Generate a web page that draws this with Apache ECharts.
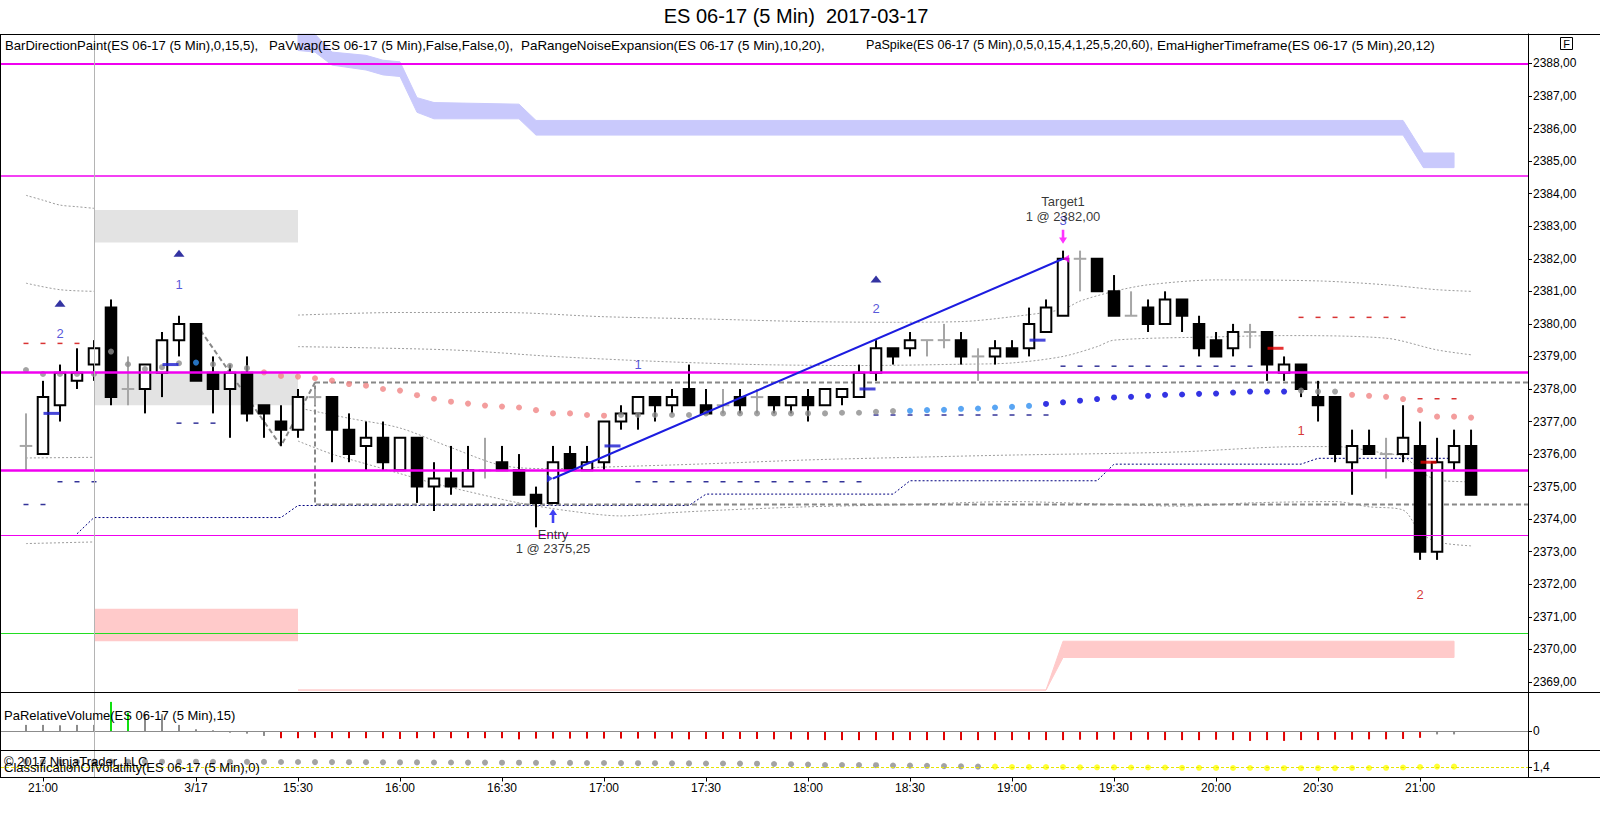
<!DOCTYPE html>
<html>
<head>
<meta charset="utf-8">
<title>ES 06-17 (5 Min) 2017-03-17</title>
<script src="https://cdn.jsdelivr.net/npm/echarts@6.0.0/dist/echarts.min.js"></script>
<style>
html,body{margin:0;padding:0;background:#ffffff;}
#chart{width:1600px;height:828px;}
</style>
</head>
<body>
<div id="chart"></div>
<script>
// ================= DATA =================
const times = ['20:55','21:00','21:05','21:10','21:15',
 '14:35','14:40','14:45','14:50','14:55','15:00','15:05','15:10','15:15','15:20','15:25','15:30','15:35','15:40','15:45',
 '15:50','15:55','16:00','16:05','16:10','16:15','16:20','16:25','16:30','16:35','16:40','16:45','16:50','16:55','17:00',
 '17:05','17:10','17:15','17:20','17:25','17:30','17:35','17:40','17:45','17:50','17:55','18:00','18:05','18:10','18:15',
 '18:20','18:25','18:30','18:35','18:40','18:45','18:50','18:55','19:00','19:05','19:10','19:15','19:20','19:25','19:30',
 '19:35','19:40','19:45','19:50','19:55','20:00','20:05','20:10','20:15','20:20','20:25','20:30','20:35','20:40','20:45',
 '20:50','20:55','21:00','21:05','21:10','21:15'];

const open = [2376.25,2376.0,2377.5,2378.25,2378.75,
 2380.5,2378.0,2378.0,2378.5,2379.5, 2380.0,2378.5,2378.0,2378.5,2377.5,
 2377.0,2376.75,2377.75,2377.75,2376.75, 2376.25,2376.5,2375.5,2376.5,2375.0,
 2375.25,2375.0,2375.5,2375.75,2375.5, 2374.75,2374.5,2376.0,2375.5,2375.75,
 2377.0,2377.25,2377.75,2377.5,2378.0, 2377.5,2377.5,2377.75,2377.75,2377.75,
 2377.5,2377.75,2377.5,2377.75,2377.75, 2378.5,2379.25,2379.25,2379.5,2379.5,
 2379.5,2379.0,2379.0,2379.25,2379.25, 2379.75,2380.25,2382.0,2382.0,2381.0,
 2380.25,2380.5,2380.0,2380.75,2380.0, 2379.5,2379.25,2379.75,2379.75,2378.5,
 2378.75,2377.75,2377.75,2375.75,2376.25, 2376.0,2376.0,2376.25,2373.0,2375.75,
 2376.25];
const high = [2377.25,2378.25,2378.75,2379.25,2379.5,
 2380.75,2379.0,2378.75,2379.75,2380.25, 2380.0,2379.0,2378.75,2379.0,2377.5,
 2377.5,2378.0,2378.0,2377.75,2377.25, 2377.0,2377.0,2376.5,2376.5,2375.75,
 2376.25,2376.25,2376.5,2376.25,2376.0, 2375.0,2376.25,2376.25,2376.25,2377.0,
 2377.5,2377.75,2377.75,2378.0,2378.75, 2378.0,2378.0,2378.0,2378.0,2377.75,
 2377.75,2378.0,2378.0,2378.0,2378.75, 2379.5,2379.25,2379.75,2379.5,2380.0,
 2379.75,2379.25,2379.5,2379.5,2380.5, 2380.75,2382.25,2382.25,2382.0,2381.5,
 2381.0,2380.75,2381.0,2380.75,2380.25, 2379.75,2380.0,2380.0,2379.75,2379.0,
 2378.75,2378.25,2377.75,2376.75,2376.75, 2376.5,2377.5,2377.0,2376.5,2376.75,
 2376.75];
const low = [2375.5,2376.0,2377.0,2378.0,2378.25,
 2377.5,2377.5,2377.25,2377.75,2379.0, 2378.25,2377.25,2376.5,2377.0,2376.5,
 2376.25,2376.5,2377.5,2375.75,2375.75, 2375.5,2375.5,2375.5,2374.5,2374.25,
 2374.75,2375.0,2375.25,2375.5,2374.75, 2373.75,2374.5,2375.5,2375.5,2375.5,
 2376.75,2376.75,2377.0,2377.25,2377.5, 2377.25,2377.25,2377.25,2377.25,2377.25,
 2377.25,2377.0,2377.5,2377.5,2377.75, 2378.25,2378.75,2379.0,2379.0,2379.25,
 2378.75,2378.25,2378.75,2379.0,2379.0, 2379.75,2380.25,2381.0,2381.0,2380.25,
 2380.25,2379.75,2380.0,2379.75,2379.0, 2379.0,2379.0,2379.25,2378.25,2378.25,
 2377.75,2377.0,2375.75,2374.75,2376.0, 2375.25,2375.75,2372.75,2372.75,2375.5,
 2374.75];
const close = [2376.25,2377.75,2378.5,2378.5,2379.25,
 2377.75,2378.0,2378.75,2379.5,2380.0, 2378.25,2378.0,2378.5,2377.25,2377.25,
 2376.75,2377.75,2377.75,2376.75,2376.0, 2376.5,2375.75,2376.5,2375.0,2375.25,
 2375.0,2375.5,2375.5,2375.5,2374.75, 2374.5,2375.75,2375.5,2375.75,2377.0,
 2377.25,2377.75,2377.5,2377.75,2377.5, 2377.25,2377.5,2377.5,2377.75,2377.5,
 2377.75,2377.5,2378.0,2378.0,2378.5, 2379.25,2379.0,2379.5,2379.5,2379.5,
 2379.0,2379.0,2379.25,2379.0,2380.0, 2380.5,2382.0,2382.0,2381.0,2380.25,
 2380.25,2380.0,2380.75,2380.25,2379.25, 2379.0,2379.75,2379.75,2378.75,2378.75,
 2378.0,2377.5,2376.0,2376.25,2376.0, 2376.0,2376.5,2373.0,2375.75,2376.25,
 2374.75];

const tickIdx = [1,10,16,22,28,34,40,46,52,58,64,70,76,82];
const tickLabels = ['21:00','3/17','15:30','16:00','16:30','17:00','17:30','18:00','18:30','19:00','19:30','20:00','20:30','21:00'];
const priceTicks = [2369,2370,2371,2372,2373,2374,2375,2376,2377,2378,2379,2380,2381,2382,2383,2384,2385,2386,2387,2388];

// EmaHigherTimeframe dots and their trend state (-1 down, 0 flat, 1 up, 2 strong up)
const ema = [2378.58,2378.46,2378.46,2378.46,2378.46, 2379.15,2378.76,2378.61,2378.67,2378.79,
 2378.81,2378.76,2378.71,2378.64,2378.51, 2378.40,2378.38,2378.33,2378.26,2378.15,
 2378.10,2378.00,2377.95,2377.81,2377.70, 2377.61,2377.55,2377.49,2377.46,2377.43,
 2377.35,2377.25,2377.25,2377.20,2377.18, 2377.20,2377.20,2377.20,2377.20,2377.20,
 2377.25,2377.25,2377.25,2377.25,2377.25, 2377.25,2377.25,2377.25,2377.27,2377.27,
 2377.30,2377.32,2377.33,2377.35,2377.36, 2377.39,2377.40,2377.43,2377.45,2377.48,
 2377.54,2377.59,2377.64,2377.69,2377.74, 2377.76,2377.79,2377.82,2377.83,2377.85,
 2377.86,2377.89,2377.92,2377.92,2377.92, 2377.95,2377.92,2377.92,2377.82,2377.79,
 2377.76,2377.69,2377.35,2377.15,2377.15, 2377.12];
const emaState = [0,0,0,0,0,0,0,0,0,0, 1,0,0,0,-1,-1,-1,-1,-1,-1,
 -1,-1,-1,-1,-1,-1,-1,-1,-1,-1, -1,-1,-1,-1,-1,0,0,0,0,0,
 0,0,0,0,0,0,0,0,0,0, 0,0,1,1,1,1,1,1,1,1,
 2,2,2,2,2,2,2,2,2,2, 2,2,2,2,2,0,0,0,-1,-1,
 -1,-1,-1,-1,-1,-1];

// PaVwap band (upper/lower) and PaRangeNoiseExpansion lower band
const vwapX   = [16,17,18,20,21,22,23,24,29,30,81,82.2,84];
const vwapTop = [2388.9,2388.9,2388.35,2388.25,2388.1,2388.05,2386.95,2386.8,2386.75,2386.25,2386.25,2385.25,2385.25];
const vwapBot = [2388.4,2388.35,2387.95,2387.8,2387.65,2387.6,2386.5,2386.3,2386.3,2385.8,2385.8,2384.8,2384.8];
const pinkX   = [16,60,61,84];
const pinkTop = [2368.75,2368.75,2370.25,2370.25];
const pinkBot = [2368.75,2368.75,2369.75,2369.75];

// Shaded zones [x1, top, x2, bottom, kind 0 grey / 1 pink]
const zones = [[4,2383.5,16,2382.5,0],[4,2378.5,16,2377.5,0],[4,2371.25,16,2370.25,1]];

// Horizontal levels
const magentaLevels = [2388.0,2384.55,2378.5,2375.5,2373.5];
const greenLevel = 2370.5;
const sessionBreak = 4;

// Navy dotted step line
const navyLine = [[3,2373.55],[4,2374.05],[15,2374.05],[16,2374.42],[39,2374.42],[40,2374.77],[51,2374.77],
 [52,2375.18],[63,2375.18],[64,2375.69],[75,2375.69],[76,2375.87],[84,2375.87]];

// Grey dotted noise lines
const noiseAPrev = [[0,2383.95],[1,2383.8],[2,2383.65],[3,2383.6],[4,2383.55]];
const noiseBPrev = [[0,2381.25],[2,2381.05],[4,2381.0]];
const noiseCPrev = [[0,2375.88],[4,2375.9]];
const noiseDPrev = [[0,2373.25],[4,2373.3]];
const noiseA = [[16,2380.27],[22,2380.35],[28,2380.35],[34,2380.22],[40,2380.15],[46,2380.07],[51,2380.05],[55,2380.07],
 [58,2380.22],[61,2380.45],[62,2380.7],[64,2381.0],[66,2381.2],[70,2381.35],[76,2381.32],[80,2381.2],[83,2381.05],[85,2381.0]];
const noiseB = [[16,2379.3],[25,2379.2],[31,2379.0],[37,2378.85],[43,2378.75],[49,2378.72],[55,2378.76],[58,2378.8],
 [61,2379.0],[63,2379.3],[64,2379.5],[70,2379.6],[74,2379.64],[80,2379.56],[83,2379.2],[85,2379.05]];
const noiseC = [[16,2377.42],[19,2377.1],[22,2376.8],[25,2376.2],[28,2375.65],[31,2375.55],[34,2375.6],[40,2375.7],
 [46,2375.82],[52,2375.9],[58,2375.97],[64,2376.02],[68,2376.07],[75,2376.23],[77,2376.23],[80,2376.02],[81,2375.92],[83,2375.2],[85,2375.15]];
const noiseD = [[16,2376.4],[18,2376.0],[20,2375.7],[22,2375.4],[24,2375.1],[26,2374.85],[29,2374.5],[32,2374.25],
 [35,2374.1],[38,2374.2],[41,2374.28],[46,2374.38],[52,2374.45],[58,2374.54],[64,2374.45],[68,2374.4],[72,2374.5],
 [77,2374.54],[79,2374.38],[81,2374.28],[82,2373.6],[83,2373.3],[85,2373.18]];

// Swing zigzag and range box
const zigzag = [[10,2380.0],[15,2376.25],[17,2378.2]];
const boxStart = 17, boxTop = 2378.2, boxBottom = 2374.45;

// PaSpike markers
const spikeMarks = [[1.5,2377.25,0],[8.5,2378.75,0],[34.5,2376.25,0],[49.5,2378.0,0],[59.5,2379.5,0],[73.5,2379.25,1],[82.5,2375.75,1]];
const navyDashes = [[0,2374.45],[1,2374.45],[2,2375.15],[3,2375.15],[4,2375.15],[9,2376.95],[10,2376.95],[11,2376.95],
 [36,2375.15],[37,2375.15],[38,2375.15],[39,2375.15],[40,2375.15],[41,2375.15],[42,2375.15],[43,2375.15],[44,2375.15],
 [45,2375.15],[46,2375.15],[47,2375.15],[48,2375.15],[49,2375.15],
 [50,2377.2],[51,2377.2],[52,2377.2],[53,2377.2],[54,2377.2],[55,2377.2],[56,2377.2],[57,2377.2],[58,2377.2],[59,2377.2],[60,2377.2],
 [61,2378.7],[62,2378.7],[63,2378.7],[64,2378.7],[65,2378.7],[66,2378.7],[67,2378.7],[68,2378.7],[69,2378.7],[70,2378.7],[71,2378.7],[72,2378.7]];
const redDashes = [[0,2379.4],[1,2379.4],[2,2379.4],[3,2379.4],
 [75,2380.2],[76,2380.2],[77,2380.2],[78,2380.2],[79,2380.2],[80,2380.2],[81,2380.2],
 [82,2377.7],[83,2377.7],[84,2377.7]];
const upTriangles = [[2,2380.63],[9,2382.17],[50,2381.38]];
const countLabels = [[2,2379.71,'2',0],[9,2381.22,'1',0],[50,2380.48,'2',0],[36,2378.74,'1',0],[61,2383.19,'3',0],[75,2376.72,'1',1],[82,2371.7,'2',1]];

// Trade
const tradeEntry = [31, 2375.25];
const tradeExit = [61, 2382.0];
const entryArrow = [31, 2374.10];
const targetArrow = [61, 2382.68];

// PaRelativeVolume (value, signal -1/0/1)
const relVol = [0.32,0.32,0.30,0.32,0.32, 1.53,0.96,0.88,0.88,0.32, 0.09,0.04,-0.09,-0.14,-0.26,
 -0.38,-0.38,-0.36,-0.38,-0.38, -0.38,-0.38,-0.42,-0.38,-0.38, -0.38,-0.38,-0.38,-0.38,-0.44,
 -0.40,-0.40,-0.40,-0.40,-0.40, -0.40,-0.40,-0.40,-0.40,-0.44, -0.42,-0.42,-0.42,-0.42,-0.44,
 -0.44,-0.46,-0.48,-0.48,-0.48, -0.48,-0.48,-0.48,-0.48,-0.48, -0.48,-0.48,-0.48,-0.48,-0.46,
 -0.48,-0.48,-0.46,-0.46,-0.46, -0.48,-0.46,-0.48,-0.48,-0.48, -0.46,-0.48,-0.52,-0.48,-0.52,
 -0.48,-0.48,-0.46,-0.46,-0.44, -0.44,-0.42,-0.36,-0.18,-0.18];
const volSignal = [0,0,0,0,0,1,1,0,0,0, 0,0,0,0,0,-1,-1,-1,-1,-1,
 -1,-1,-1,-1,-1,-1,-1,-1,-1,-1, -1,-1,-1,-1,-1,-1,-1,-1,-1,-1,
 -1,-1,-1,-1,-1,-1,-1,-1,-1,-1, -1,-1,-1,-1,-1,-1,-1,-1,-1,-1,
 -1,-1,-1,-1,-1,-1,-1,-1,-1,-1, -1,-1,-1,-1,-1,-1,-1,-1,-1,-1,
 -1,-1,-1,0,0];

// ClassificationOfVolatility (value, class 0/1)
const volaVals = [1.94,1.94,1.94,1.93,1.94,1.94,1.93,1.93,1.93,1.93,
 1.93,1.92,1.92,1.91,1.91,1.90,1.90,1.89,1.89,1.88,
 1.88,1.87,1.86,1.86,1.85,1.85,1.84,1.84,1.83,1.83,
 1.82,1.82,1.81,1.80,1.80,1.79,1.78,1.78,1.77,1.76,
 1.75,1.75,1.74,1.73,1.70,1.68,1.65,1.60,1.60,1.60,
 1.58,1.54,1.54,1.52,1.49,1.46,1.44,1.44,1.40,1.40,
 1.40,1.40,1.37,1.37,1.36,1.35,1.35,1.35,1.32,1.32,
 1.31,1.30,1.30,1.29,1.28,1.28,1.28,1.29,1.30,1.30,
 1.32,1.35,1.40,1.44,1.44];
const volaClass = [0,0,0,0,0,0,0,0,0,0, 0,0,0,0,0,0,0,0,0,0, 0,0,0,0,0,0,0,0,0,0,
 0,0,0,0,0,0,0,0,0,0, 0,0,0,0,0,0,0,0,0,0, 0,0,0,0,0,0,0,1,1,1,
 1,1,1,1,1,1,1,1,1,1, 1,1,1,1,1,1,1,1,1,1, 1,1,1,1,1];
const volaLevel = 1.4;

// ================= CHART =================
const FONT = '"Liberation Sans", Arial, Helvetica, sans-serif';
const X_MIN = -1.47, X_MAX = 88.35;
const Y_MIN = 2368.69, Y_MAX = 2388.906;
const fmt = v => v.toFixed(2).replace('.', ',');
const emaColor = {'-1':'#f08484','0':'#8c8c8c','1':'#2f8ff0','2':'#0000dc'};
const volColor = {'-1':'#e00000','0':'#8c8c8c','1':'#10e010'};
const volaColor = {'0':'#8c8c8c','1':'#ffff00'};
const magentaWidths = [2, 1.5, 2.5, 2.5, 1];

const chart = echarts.init(document.getElementById('chart'), null, {renderer:'svg', width:1600, height:828});

function renderCandle(params, api) {
  const x = api.value(0), o = api.value(1), h = api.value(2), l = api.value(3), c = api.value(4);
  const pHi = api.coord([x, h]), pLo = api.coord([x, l]);
  const pTop = api.coord([x, Math.max(o, c)]), pBot = api.coord([x, Math.min(o, c)]);
  const bw = api.size([1, 0])[0] * 0.62;
  if (o === c) {
    return {type:'group', children:[
      {type:'line', shape:{x1:pHi[0], y1:pHi[1], x2:pLo[0], y2:pLo[1]}, style:{stroke:'#a6a6a6', lineWidth:2}},
      {type:'line', shape:{x1:pTop[0]-bw/2-1, y1:pTop[1], x2:pTop[0]+bw/2+1, y2:pTop[1]}, style:{stroke:'#a6a6a6', lineWidth:2}}
    ]};
  }
  const up = c > o;
  return {type:'group', children:[
    {type:'line', shape:{x1:pHi[0], y1:pHi[1], x2:pLo[0], y2:pLo[1]}, style:{stroke:'#000', lineWidth:2}},
    {type:'rect', shape:{x:pTop[0]-bw/2, y:pTop[1], width:bw, height:Math.max(1, pBot[1]-pTop[1])},
     style:{fill: up ? '#ffffff' : '#000000', stroke:'#000', lineWidth:2}}
  ]};
}

function bandRenderer(xs, tops, bots, color) {
  return function (params, api) {
    const pts = [];
    for (let i = 0; i < xs.length; i++) pts.push(api.coord([xs[i], tops[i]]));
    for (let i = xs.length - 1; i >= 0; i--) pts.push(api.coord([xs[i], bots[i]]));
    return {type:'polygon', shape:{points:pts}, style:{fill:color, stroke:color, lineWidth:1}};
  };
}

function dotted(data) {
  return {type:'line', xAxisIndex:0, yAxisIndex:0, data:data, smooth:0.3, symbol:'none', showSymbol:false,
    lineStyle:{color:'#9c9c9c', width:1, type:[2,2]}, z:2, silent:true};
}

const axisTxt = {color:'#000', fontSize:12, fontFamily:FONT};
const hiddenX = gi => ({type:'value', gridIndex:gi, min:X_MIN, max:X_MAX, show:false, axisLine:{show:false, onZero:false}});

function headerText(x, text, size) {
  return {type:'text', x:x, y:45, z:100, silent:true,
    style:{text:text, font:size + 'px ' + FONT, fill:'#000', verticalAlign:'middle'}};
}

const option = {
  animation:false,
  backgroundColor:'#ffffff',
  grid:[
    {left:1, right:72, top:34, height:658, containLabel:false, outerBoundsMode:'none'},
    {left:1, right:72, top:692, height:58, containLabel:false, outerBoundsMode:'none'},
    {left:1, right:72, top:750, height:27.5, containLabel:false, outerBoundsMode:'none'}
  ],
  xAxis:[
    hiddenX(0), hiddenX(1),
    {type:'value', gridIndex:2, min:X_MIN, max:X_MAX, show:true,
      axisLine:{show:false, onZero:false}, splitLine:{show:false},
      axisTick:{show:true, length:4, customValues:tickIdx, lineStyle:{color:'#000'}},
      axisLabel:Object.assign({show:true, margin:4, customValues:tickIdx,
        formatter:v => tickLabels[tickIdx.indexOf(Math.round(v))] || ''}, axisTxt)}
  ],
  yAxis:[
    {type:'value', gridIndex:0, position:'right', min:Y_MIN, max:Y_MAX, splitLine:{show:false},
      axisLine:{show:true, onZero:false, lineStyle:{color:'#000', width:1}},
      axisTick:{show:true, length:4, customValues:priceTicks, lineStyle:{color:'#000'}},
      axisLabel:Object.assign({margin:5, customValues:priceTicks, formatter:fmt}, axisTxt)},
    {type:'value', gridIndex:1, position:'right', min:-1.0, max:2.05, splitLine:{show:false},
      axisLine:{show:true, onZero:false, lineStyle:{color:'#000', width:1}},
      axisTick:{show:true, length:4, customValues:[0], lineStyle:{color:'#000'}},
      axisLabel:Object.assign({margin:5, customValues:[0], formatter:v => String(Math.round(v))}, axisTxt)},
    {type:'value', gridIndex:2, position:'right', min:0.35, max:3.1, splitLine:{show:false},
      axisLine:{show:true, onZero:false, lineStyle:{color:'#000', width:1}},
      axisTick:{show:true, length:4, customValues:[volaLevel], lineStyle:{color:'#000'}},
      axisLabel:Object.assign({margin:5, customValues:[volaLevel], formatter:v => v.toFixed(1).replace('.', ',')}, axisTxt)}
  ],
  series:[
    // bands & zones
    {type:'custom', xAxisIndex:0, yAxisIndex:0, z:1, silent:true, data:[[vwapX[0], vwapTop[0]]],
      renderItem:bandRenderer(vwapX, vwapTop, vwapBot, '#c9c9fc')},
    {type:'custom', xAxisIndex:0, yAxisIndex:0, z:1, silent:true, data:[[pinkX[0], pinkTop[0]]],
      renderItem:bandRenderer(pinkX, pinkTop, pinkBot, '#ffcaca')},
    {type:'custom', xAxisIndex:0, yAxisIndex:0, z:1, silent:true, data:zones,
      renderItem:function (params, api) {
        const p1 = api.coord([api.value(0), api.value(1)]);
        const p2 = api.coord([api.value(2), api.value(3)]);
        const col = api.value(4) === 1 ? '#ffcaca' : '#e3e3e3';
        return {type:'rect', shape:{x:p1[0], y:p1[1], width:p2[0]-p1[0], height:p2[1]-p1[1]}, style:{fill:col}};
      }},
    // navy dotted line carrying level lines
    {type:'line', xAxisIndex:0, yAxisIndex:0, data:navyLine, symbol:'none', showSymbol:false, z:2, silent:true,
      lineStyle:{color:'#000080', width:1, type:[2,2]},
      markLine:{silent:true, symbol:['none','none'], animation:false, label:{show:false},
        data:[].concat(
          magentaLevels.map((v, i) => ({yAxis:v, lineStyle:{color:'#f000f0', width:magentaWidths[i], type:'solid'}})),
          [{yAxis:greenLevel, lineStyle:{color:'#22dd22', width:1, type:'solid'}},
           {xAxis:sessionBreak, lineStyle:{color:'#b4b4b4', width:1, type:'solid'}},
           {yAxis:close[close.length - 1], lineStyle:{opacity:0, width:0},
            label:{show:true, position:'end', distance:0,
              formatter:p => '{a|\u25C0}{b|' + fmt(p.value) + '}',
              rich:{a:{color:'#000', fontSize:12, fontFamily:'DejaVu Sans', lineHeight:15},
                    b:{color:'#fff', backgroundColor:'#000', fontSize:12, fontFamily:FONT, padding:[2,4,1,1], lineHeight:15}}}}]
        )}},
    dotted(noiseAPrev), dotted(noiseBPrev), dotted(noiseCPrev), dotted(noiseDPrev),
    dotted(noiseA), dotted(noiseB), dotted(noiseC), dotted(noiseD),
    // zigzag and range box
    {type:'line', xAxisIndex:0, yAxisIndex:0, data:zigzag, symbol:'none', z:2, silent:true,
      lineStyle:{color:'#888', width:2, type:[5,3]}},
    {type:'line', xAxisIndex:0, yAxisIndex:0, data:[[X_MAX, boxTop],[boxStart, boxTop],[boxStart, boxBottom],[X_MAX, boxBottom]],
      symbol:'none', z:2, silent:true, lineStyle:{color:'#888', width:2, type:[5,3]}},
    // small dashes
    {type:'scatter', xAxisIndex:0, yAxisIndex:0, data:navyDashes, symbol:'rect', symbolSize:[5,1.5], z:2, silent:true,
      itemStyle:{color:'#000080'}},
    {type:'scatter', xAxisIndex:0, yAxisIndex:0, data:redDashes, symbol:'rect', symbolSize:[5,1.5], z:2, silent:true,
      itemStyle:{color:'#d00000'}},
    // candles
    {type:'custom', xAxisIndex:0, yAxisIndex:0, z:3, silent:true, renderItem:renderCandle,
      encode:{x:0, y:[1,2,3,4]},
      data:open.map((o, i) => [i, o, high[i], low[i], close[i]])},
    // EMA dots
    {type:'scatter', xAxisIndex:0, yAxisIndex:0, z:4, silent:true, symbolSize:6,
      data:ema.map((v, i) => [i, v, emaState[i]]),
      itemStyle:{color:p => emaColor[String(p.data[2])]}},
    // spike wide dashes
    {type:'scatter', xAxisIndex:0, yAxisIndex:0, z:4, silent:true, symbol:'rect', symbolSize:[16,3],
      data:spikeMarks, itemStyle:{color:p => p.data[2] === 1 ? '#e00000' : '#1a1ad0'}},
    // trade line
    {type:'line', xAxisIndex:0, yAxisIndex:0, z:5, silent:true, data:[tradeEntry, tradeExit], symbol:'none',
      lineStyle:{color:'#1c1ce0', width:2}},
    // execution marks
    {type:'scatter', xAxisIndex:0, yAxisIndex:0, z:6, silent:true, data:[tradeEntry], symbol:'triangle', symbolRotate:-90,
      symbolSize:[8,6], symbolOffset:[-3,0], itemStyle:{color:'#1a1ae6'}},
    {type:'scatter', xAxisIndex:0, yAxisIndex:0, z:6, silent:true, data:[tradeExit], symbol:'triangle', symbolRotate:90,
      symbolSize:[8,6], symbolOffset:[3,0], itemStyle:{color:'#ff00ff'}},
    // spike triangles
    {type:'scatter', xAxisIndex:0, yAxisIndex:0, z:5, silent:true, data:upTriangles, symbol:'triangle',
      symbolSize:[11,7], itemStyle:{color:'#00008b'}},
    // count labels
    {type:'scatter', xAxisIndex:0, yAxisIndex:0, z:5, silent:true, symbolSize:1,
      itemStyle:{color:'rgba(0,0,0,0)'},
      data:countLabels.map(d => ({value:[d[0], d[1]],
        label:{show:true, position:'inside', formatter:d[2], color:d[3] === 1 ? '#cc0000' : '#2a2ad0',
               fontSize:13, fontFamily:FONT}}))},
    // entry arrow
    {type:'scatter', xAxisIndex:0, yAxisIndex:0, z:7, silent:true, data:[entryArrow],
      symbol:'path://M5,0 L10,7 L6.6,7 L6.6,16 L3.4,16 L3.4,7 L0,7 Z', symbolSize:[8,14],
      itemStyle:{color:'#1010f0'},
      label:{show:true, position:'bottom', distance:4, formatter:'Entry\n1 @ ' + fmt(tradeEntry[1]),
        color:'#000', fontSize:13, fontFamily:FONT, lineHeight:14.5, align:'center'}},
    // target arrow
    {type:'scatter', xAxisIndex:0, yAxisIndex:0, z:7, silent:true, data:[targetArrow],
      symbol:'path://M3.4,0 L6.6,0 L6.6,9 L10,9 L5,16 L0,9 L3.4,9 Z', symbolSize:[8,14],
      itemStyle:{color:'#ff00ff'},
      label:{show:true, position:'top', distance:6, formatter:'Target1\n1 @ ' + fmt(tradeExit[1]),
        color:'#000', fontSize:13, fontFamily:FONT, lineHeight:14.5, align:'center'}},
    // relative volume panel
    {type:'bar', xAxisIndex:1, yAxisIndex:1, barWidth:2, silent:true, z:3,
      data:relVol.map((v, i) => [i, v, volSignal[i]]),
      itemStyle:{color:p => volColor[String(p.data[2])]},
      markLine:{silent:true, symbol:['none','none'], animation:false, label:{show:false},
        data:[{yAxis:0, lineStyle:{color:'#8c8c8c', width:1, type:'solid'}},
              {xAxis:sessionBreak, lineStyle:{color:'#b4b4b4', width:1, type:'solid'}}]}},
    // volatility panel
    {type:'scatter', xAxisIndex:2, yAxisIndex:2, symbolSize:6, silent:true, z:3,
      data:volaVals.map((v, i) => [i, v, volaClass[i]]),
      itemStyle:{color:p => volaColor[String(p.data[2])]},
      markLine:{silent:true, symbol:['none','none'], animation:false, label:{show:false},
        data:[{yAxis:volaLevel, lineStyle:{color:'#e6e600', width:1, type:[3,2]}},
              {xAxis:sessionBreak, lineStyle:{color:'#b4b4b4', width:1, type:'solid'}}]}}
  ],
  graphic:[
    {type:'text', x:796, y:16, z:100, silent:true,
      style:{text:'ES 06-17 (5 Min)  2017-03-17', font:'20px ' + FONT, fill:'#000', align:'center', verticalAlign:'middle'}},
    headerText(5, 'BarDirectionPaint(ES 06-17 (5 Min),0,15,5),', 13.1),
    headerText(269, 'PaVwap(ES 06-17 (5 Min),False,False,0),', 13.2),
    headerText(521, 'PaRangeNoiseExpansion(ES 06-17 (5 Min),10,20),', 13.4),
    headerText(866, 'PaSpike(ES 06-17 (5 Min),0,5,0,15,4,1,25,5,20,60),', 12.6),
    headerText(1157, 'EmaHigherTimeframe(ES 06-17 (5 Min),20,12)', 13.4),
    {type:'text', x:4, y:715, z:100, silent:true, style:{text:'PaRelativeVolume(ES 06-17 (5 Min),15)', font:'13px ' + FONT, fill:'#000', verticalAlign:'middle'}},
    {type:'text', x:4, y:767, z:100, silent:true, style:{text:'ClassificationOfVolatility(ES 06-17 (5 Min),0)', font:'13px ' + FONT, fill:'#000', verticalAlign:'middle'}},
    {type:'text', x:4, y:761, z:100, silent:true, style:{text:'\u00A9 2017 NinjaTrader, LLC', font:'13px ' + FONT, fill:'#000', verticalAlign:'middle'}},
    {type:'rect', z:100, silent:true, shape:{x:1560.5, y:37.5, width:12, height:12}, style:{fill:'#fff', stroke:'#000', lineWidth:1}},
    {type:'text', x:1566.5, y:44, z:101, silent:true, style:{text:'F', font:'11px ' + FONT, fill:'#000', align:'center', verticalAlign:'middle'}},
    {type:'line', z:100, silent:true, shape:{x1:0, y1:34.5, x2:1600, y2:34.5}, style:{stroke:'#000', lineWidth:1}},
    {type:'line', z:100, silent:true, shape:{x1:0, y1:692.5, x2:1600, y2:692.5}, style:{stroke:'#000', lineWidth:1}},
    {type:'line', z:100, silent:true, shape:{x1:0, y1:750.5, x2:1600, y2:750.5}, style:{stroke:'#000', lineWidth:1}},
    {type:'line', z:100, silent:true, shape:{x1:0, y1:777.5, x2:1600, y2:777.5}, style:{stroke:'#000', lineWidth:1}},
    {type:'line', z:100, silent:true, shape:{x1:0.5, y1:34.5, x2:0.5, y2:777.5}, style:{stroke:'#000', lineWidth:1}}
  ]
};
chart.setOption(option);
</script>
</body>
</html>
